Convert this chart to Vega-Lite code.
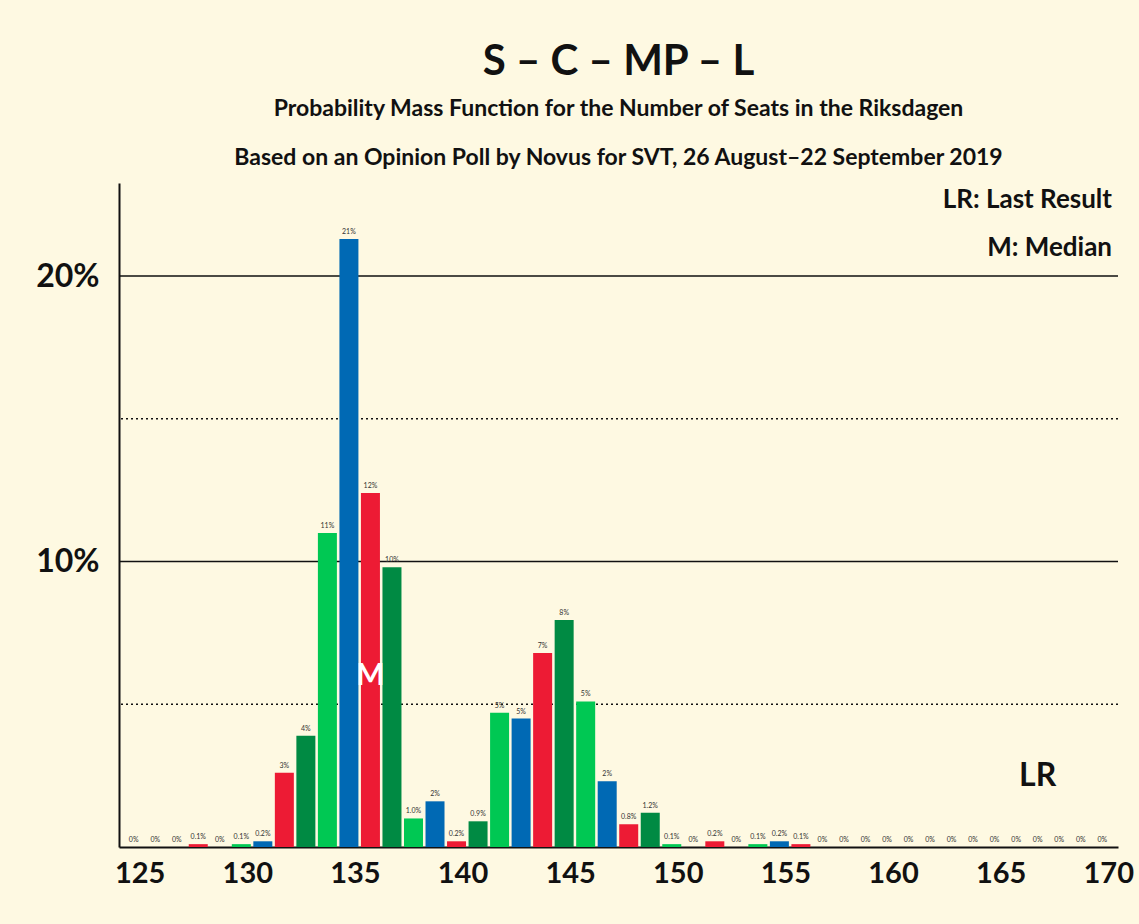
{
  "$schema": "https://vega.github.io/schema/vega-lite/v6.json",
  "width": 999,
  "height": 664,
  "autosize": "none",
  "padding": {"left": 119, "top": 183, "right": 21, "bottom": 77},
  "background": "#FEF9E2",
  "title": {
    "text": "S – C – MP – L",
    "subtitle": ["Probability Mass Function for the Number of Seats in the Riksdagen", "Based on an Opinion Poll by Novus for SVT, 26 August–22 September 2019"],
    "anchor": "middle",
    "frame": "group",
    "font": "Lato",
    "fontSize": 42,
    "fontWeight": "bold",
    "color": "#111111",
    "subtitleFont": "Lato",
    "subtitleFontSize": 23,
    "subtitleFontWeight": "bold",
    "subtitleColor": "#111111",
    "subtitleLineHeight": 49,
    "subtitlePadding": 14,
    "offset": 12
  },
  "data": {
    "values": [
      {"seats": 125, "p": 0}, {"seats": 126, "p": 0}, {"seats": 127, "p": 0},
      {"seats": 128, "p": 0.1}, {"seats": 129, "p": 0}, {"seats": 130, "p": 0.1},
      {"seats": 131, "p": 0.2}, {"seats": 132, "p": 2.6}, {"seats": 133, "p": 3.9},
      {"seats": 134, "p": 11.0}, {"seats": 135, "p": 21.3}, {"seats": 136, "p": 12.4},
      {"seats": 137, "p": 9.8}, {"seats": 138, "p": 1.0}, {"seats": 139, "p": 1.6},
      {"seats": 140, "p": 0.2}, {"seats": 141, "p": 0.9}, {"seats": 142, "p": 4.7},
      {"seats": 143, "p": 4.5}, {"seats": 144, "p": 6.8}, {"seats": 145, "p": 7.95},
      {"seats": 146, "p": 5.1}, {"seats": 147, "p": 2.3}, {"seats": 148, "p": 0.8},
      {"seats": 149, "p": 1.2}, {"seats": 150, "p": 0.1}, {"seats": 151, "p": 0},
      {"seats": 152, "p": 0.2}, {"seats": 153, "p": 0}, {"seats": 154, "p": 0.1},
      {"seats": 155, "p": 0.2}, {"seats": 156, "p": 0.1}, {"seats": 157, "p": 0},
      {"seats": 158, "p": 0}, {"seats": 159, "p": 0}, {"seats": 160, "p": 0},
      {"seats": 161, "p": 0}, {"seats": 162, "p": 0}, {"seats": 163, "p": 0},
      {"seats": 164, "p": 0}, {"seats": 165, "p": 0}, {"seats": 166, "p": 0},
      {"seats": 167, "p": 0}, {"seats": 168, "p": 0}, {"seats": 169, "p": 0},
      {"seats": 170, "p": 0}
    ]
  },
  "transform": [
    {"calculate": "datum.seats % 4", "as": "k"},
    {"calculate": "datum.p == 0 ? '0%' : (datum.p < 1.5 ? format(datum.p, '.1f') + '%' : format(datum.p, '.0f') + '%')", "as": "lab"}
  ],
  "layer": [
    {
      "data": {"values": [{"g": 5, "s": "dot"}, {"g": 15, "s": "dot"}, {"g": 10, "s": "solid"}, {"g": 20, "s": "solid"}]},
      "mark": {"type": "rule", "color": "#111111", "strokeWidth": 1.5},
      "encoding": {
        "y": {"field": "g", "type": "quantitative"},
        "strokeDash": {"field": "s", "type": "nominal", "scale": {"domain": ["dot", "solid"], "range": [[2, 3], [1, 0]]}, "legend": null}
      }
    },
    {
      "mark": {"type": "bar", "width": 19},
      "encoding": {
        "x": {
          "field": "seats", "type": "quantitative",
          "scale": {"domain": [124.55, 170.5], "nice": false, "zero": false},
          "axis": {"values": [125, 130, 135, 140, 145, 150, 155, 160, 165, 170], "title": null, "grid": false, "ticks": false, "domainColor": "#111111", "domainWidth": 2, "labelFont": "Lato", "labelFontSize": 29, "labelFontWeight": "bold", "labelColor": "#111111", "labelPadding": 12, "labelOffset": 6}
        },
        "y": {
          "field": "p", "type": "quantitative",
          "scale": {"domain": [0, 23.26], "nice": false},
          "axis": {"values": [10, 20], "labelExpr": "datum.value + '%'", "title": null, "grid": false, "ticks": false, "domainColor": "#111111", "domainWidth": 2, "labelFont": "Lato", "labelFontSize": 32, "labelFontWeight": "bold", "labelColor": "#111111", "labelPadding": 20}
        },
        "color": {"field": "k", "type": "nominal", "scale": {"domain": [3, 0, 1, 2], "range": ["#0069B4", "#ED1B34", "#008A43", "#00C853"]}, "legend": null}
      }
    },
    {
      "mark": {"type": "text", "font": "Lato", "fontSize": 7, "dy": -7, "color": "#333333"},
      "encoding": {
        "x": {"field": "seats", "type": "quantitative"},
        "y": {"field": "p", "type": "quantitative"},
        "text": {"field": "lab"}
      }
    },
    {
      "data": {"values": [{"seats": 136, "p": 6.0, "t": "M"}]},
      "mark": {"type": "text", "font": "Lato", "fontSize": 30, "fontWeight": "bold", "color": "#FFFFFF"},
      "encoding": {
        "x": {"field": "seats", "type": "quantitative"},
        "y": {"field": "p", "type": "quantitative"},
        "text": {"field": "t"}
      }
    },
    {
      "data": {"values": [{"seats": 167, "p": 2.5, "t": "LR"}]},
      "mark": {"type": "text", "font": "Lato", "fontSize": 32, "fontWeight": "bold", "color": "#111111"},
      "encoding": {
        "x": {"field": "seats", "type": "quantitative"},
        "y": {"field": "p", "type": "quantitative"},
        "text": {"field": "t"}
      }
    },
    {
      "data": {"values": [{"seats": 170.5, "p": 22.66, "t": "LR: Last Result"}, {"seats": 170.5, "p": 21.0, "t": "M: Median"}]},
      "mark": {"type": "text", "font": "Lato", "fontSize": 26, "fontWeight": "bold", "color": "#111111", "align": "right", "dx": -1},
      "encoding": {
        "x": {"field": "seats", "type": "quantitative"},
        "y": {"field": "p", "type": "quantitative"},
        "text": {"field": "t"}
      }
    }
  ],
  "config": {"view": {"stroke": null}}
}
